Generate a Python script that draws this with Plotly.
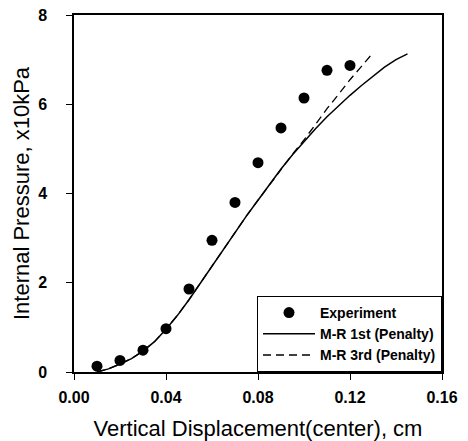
import plotly.graph_objects as go

exp_x = [0.01, 0.02, 0.03, 0.04, 0.05, 0.06, 0.07, 0.08, 0.09, 0.10, 0.11, 0.12]
exp_y = [0.13, 0.26, 0.49, 0.97, 1.86, 2.95, 3.80, 4.69, 5.47, 6.14, 6.76, 6.87]

mr1_x = [0.010, 0.015, 0.020, 0.025, 0.030, 0.035, 0.040, 0.045, 0.050, 0.055, 0.060,
         0.065, 0.070, 0.075, 0.080, 0.085, 0.090, 0.095, 0.100, 0.105, 0.110, 0.115,
         0.120, 0.125, 0.130, 0.135, 0.140, 0.145]
mr1_y = [0.00, 0.07, 0.18, 0.30, 0.47, 0.68, 0.96, 1.27, 1.62, 2.00, 2.38,
         2.76, 3.13, 3.50, 3.85, 4.20, 4.55, 4.87, 5.17, 5.45, 5.72, 5.97,
         6.20, 6.42, 6.63, 6.83, 7.00, 7.13]

mr3_x = [0.010, 0.015, 0.020, 0.025, 0.030, 0.035, 0.040, 0.045, 0.050, 0.055, 0.060,
         0.065, 0.070, 0.075, 0.080, 0.085, 0.090, 0.095, 0.100, 0.105, 0.110, 0.115,
         0.120, 0.125, 0.130]
mr3_y = [0.00, 0.07, 0.18, 0.30, 0.47, 0.68, 0.96, 1.27, 1.62, 2.00, 2.38,
         2.76, 3.13, 3.50, 3.85, 4.20, 4.55, 4.88, 5.20, 5.55, 5.90, 6.22,
         6.55, 6.85, 7.15]

x_ticks = [0.00, 0.04, 0.08, 0.12, 0.16]
x_tick_labels = ["0.00", "0.04", "0.08", "0.12", "0.16"]
y_ticks = [0, 2, 4, 6, 8]

font_family = "Liberation Sans, Arial, sans-serif"

fig = go.Figure()
fig.add_trace(go.Scatter(x=exp_x, y=exp_y, mode="markers", name="Experiment",
                         marker=dict(color="black", size=11)))
fig.add_trace(go.Scatter(x=mr3_x, y=mr3_y, mode="lines", name="M-R 3rd (Penalty)",
                         line=dict(color="black", width=1.3, dash="8px,5px"), showlegend=False))
fig.add_trace(go.Scatter(x=mr1_x, y=mr1_y, mode="lines", name="M-R 1st (Penalty)",
                         line=dict(color="black", width=1.5)))
fig.add_trace(go.Scatter(x=[None], y=[None], mode="lines", name="M-R 3rd (Penalty)",
                         line=dict(color="black", width=1.3, dash="8px,5px")))

fig.update_layout(
    width=468, height=441,
    margin=dict(l=74, r=26, t=15, b=69, autoexpand=False),
    paper_bgcolor="white", plot_bgcolor="white",
    font=dict(family=font_family, color="black"),
    showlegend=True,
    legend=dict(x=1, y=0, xanchor="right", yanchor="bottom",
                bordercolor="black", borderwidth=1, bgcolor="white",
                font=dict(size=14, family=font_family, weight="bold"),
                tracegroupgap=0, itemwidth=52),
    xaxis=dict(range=[0, 0.16], tickvals=x_ticks, ticktext=x_tick_labels,
               ticks="outside", ticklen=6, tickwidth=1.2, tickcolor="black",
               ticklabelstandoff=4,
               showline=True, linecolor="black", linewidth=1.5, mirror=True,
               showgrid=False, zeroline=False,
               tickfont=dict(size=16, family=font_family, weight="bold"),
               title=dict(text="Vertical Displacement(center), cm",
                          font=dict(size=22, family=font_family), standoff=18)),
    yaxis=dict(range=[0, 8], tickvals=y_ticks,
               ticks="outside", ticklen=6, tickwidth=1.2, tickcolor="black",
               ticklabelstandoff=16,
               showline=True, linecolor="black", linewidth=1.5, mirror=True,
               showgrid=False, zeroline=False,
               tickfont=dict(size=16, family=font_family, weight="bold"),
               title=dict(text="Internal Pressure, x10kPa",
                          font=dict(size=22, family=font_family), standoff=2)),
)

fig.write_html("out.html", config={"displayModeBar": False},
               post_script="document.body.style.margin='0';")
